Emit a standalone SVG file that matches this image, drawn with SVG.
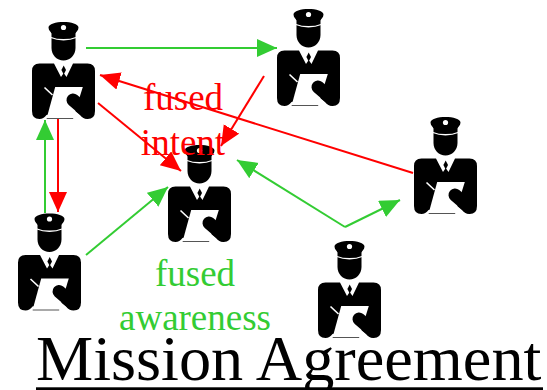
<svg xmlns="http://www.w3.org/2000/svg" width="547" height="390" viewBox="0 0 547 390">
<style>
.t{font-family:"Liberation Serif","Times New Roman",serif;text-anchor:middle}
.r{fill:#ff0000;font-size:37px}
.g{fill:#33cc33;font-size:37px}
.title{font-family:"Liberation Serif","Times New Roman",serif;font-size:64.300px;fill:#000}
.lr{stroke:#ff0000;stroke-width:2;fill:none}
.lg{stroke:#33cc33;stroke-width:2;fill:none}
</style>
<defs>
<marker id="ar" markerUnits="userSpaceOnUse" markerWidth="22" markerHeight="20" refX="20" refY="9" orient="auto"><path d="M0 0L20 9L0 18Z" fill="#ff0000"/></marker>
<marker id="ag" markerUnits="userSpaceOnUse" markerWidth="22" markerHeight="20" refX="20" refY="9" orient="auto"><path d="M0 0L20 9L0 18Z" fill="#33cc33"/></marker>
<g id="officer">
<path d="M16.500 5.500C16.500 2 24 0 31.500 0S46.500 2 46.500 5.500C46.500 8.500 44 10 43.500 11.500V26C43.500 33 38 38.500 31.500 38.500S19.500 33 19.500 26V11.500C19 10 16.500 8.500 16.500 5.500Z" fill="#000"/>
<circle cx="31.500" cy="5.500" r="2.600" fill="#fff"/>
<path d="M19 15.500C26 18.500 37 18.500 44 15.500" stroke="#fff" stroke-width="1.300" fill="none"/>
<path d="M7.500 41.500H22L29 55L31.700 51L34.500 55L41 41.500H55.500Q63 41.500 63 49V89Q63 97 55.500 97Q51 97 48 93L42 88L14.500 93Q11.500 97 7.500 97Q0 97 0 89V49Q0 41.500 7.500 41.500Z" fill="#000"/>
<path d="M31.700 43.500L34 48L31.700 52.500L29.400 48Z" fill="#000"/>
<path d="M23.200 65H50.800L41.200 96H14.700Z" fill="#fff"/>
<path d="M14.700 96.500H41.200" stroke="#555" stroke-width="1" fill="none"/>
<path d="M41 78L55 90" stroke="#000" stroke-width="13" stroke-linecap="round" fill="none"/>
<path d="M12.500 65.500L20.500 73" stroke="#fff" stroke-width="1.600" fill="none"/>
</g>
</defs>
<g id="connectors">
<path class="lg" d="M86 48H277" marker-end="url(#ag)"/>
<path class="lr" d="M264 76L221 146" marker-end="url(#ar)"/>
<path class="lr" d="M413 173L100 75" marker-end="url(#ar)"/>
<path class="lr" d="M98 103L181 171" marker-end="url(#ar)"/>
<path class="lg" d="M86 255L168 187" marker-end="url(#ag)"/>
<path class="lg" d="M345 227L237 160" marker-end="url(#ag)"/>
<path class="lg" d="M345 227L400 200" marker-end="url(#ag)"/>
<path class="lg" d="M45 213V120" marker-end="url(#ag)"/>
<path class="lr" d="M58 118V212" marker-end="url(#ar)"/>
</g>
<g id="node-top-left"><use href="#officer" x="32" y="22"/></g>
<g id="node-top-right"><use href="#officer" x="277" y="9"/></g>
<g id="node-center"><use href="#officer" x="168" y="145"/></g>
<g id="node-bottom-left"><use href="#officer" x="18" y="213.500"/></g>
<g id="node-right"><use href="#officer" x="414" y="117"/></g>
<g id="node-bottom"><use href="#officer" x="318" y="241"/></g>
<g id="labels">
<text class="t r" x="183" y="110">fused</text>
<text class="t r" x="183" y="155">intent</text>
<text class="t g" x="195" y="286">fused</text>
<text class="t g" x="195" y="330">awareness</text>
<text class="title" x="36" y="380">Mission Agreement</text>
<rect x="36" y="387.300" width="507" height="2.700" fill="#000"/>
</g>
</svg>
